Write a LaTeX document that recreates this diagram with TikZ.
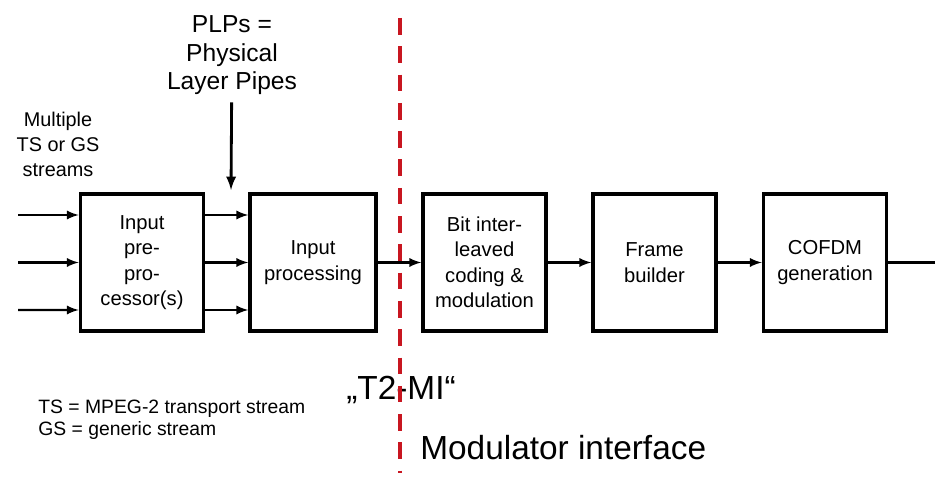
\documentclass[tikz,border=0pt]{standalone}
\usepackage{fontspec}
\setmainfont{Liberation Sans}
\definecolor{cutred}{RGB}{200,22,32}

\begin{document}
\begin{tikzpicture}[
  blk/.style={draw,line width=2pt,minimum width=2.46cm,minimum height=2.74cm,
    inner sep=0pt,align=center,font=\fontsize{11.5}{14.5}\selectfont},
  flow/.style={-latex,line width=1.3pt},
  txt/.style={inner sep=0pt,align=center}]
\useasboundingbox (0,0) rectangle (18.7,9.64);
% processing chain
\node[blk] (pre) at (2.84,4.39) {Input\\pre-\\pro-\\cessor(s)};
\node[blk,minimum width=2.52cm] (inproc) at (6.26,4.39) {Input\\processing};
\node[blk] (bicm) at (9.69,4.39) {Bit inter-\\leaved\\coding \&\\modulation};
\node[blk] (frame) at (13.09,4.39) {Frame\\builder};
\node[blk] (ofdm) at (16.5,4.39) {COFDM\\generation};
% labels
\node[txt,anchor=north,font=\fontsize{11.3}{14.2}\selectfont] (streams) at (1.16,7.4) {Multiple\\TS or GS\\streams};
\node[txt,anchor=north,font=\fontsize{14}{16.4}\selectfont] (plp) at (4.64,9.34) {PLPs =\\Physical\\Layer Pipes};
\node[txt,anchor=north west,align=left,font=\fontsize{11}{12.5}\selectfont] (legend) at (0.76,1.64)
  {TS = MPEG-2 transport stream\\GS = generic stream};
\node[txt,anchor=base,font=\fontsize{19}{22}\selectfont] (t2mi) at (8.02,1.64) {„T2-MI“};
\node[txt,anchor=base west,font=\fontsize{19}{22}\selectfont] (modif) at (8.4,0.44) {Modulator interface};
% interface cut
\coordinate (cuttop) at (8.0,9.28);
\coordinate (cutbot) at (8.0,0.18);
\draw[cutred,line width=2pt,dash pattern=on 9.5pt off 6.6pt] (cuttop) -- (cutbot);
% connectors
\foreach \dy in {0.95,0,-0.95}{
  \coordinate (in) at (0.36,4.39+\dy);
  \draw[flow] (in) -- ([yshift=\dy cm]pre.west);
  \draw[flow] ([yshift=\dy cm]pre.east) -- ([yshift=\dy cm]inproc.west);
}
\draw[flow] (inproc) -- (bicm);
\draw[flow] (bicm) -- (frame);
\draw[flow] (frame) -- (ofdm);
\coordinate (out) at (18.7,4.39);
\draw[line width=1.3pt] (ofdm) -- (out);
\coordinate (plptip) at (4.62,5.84);
\draw[-latex,line width=1.6pt,shorten <=4pt] (plp) -- (plptip);
\end{tikzpicture}
\end{document}
